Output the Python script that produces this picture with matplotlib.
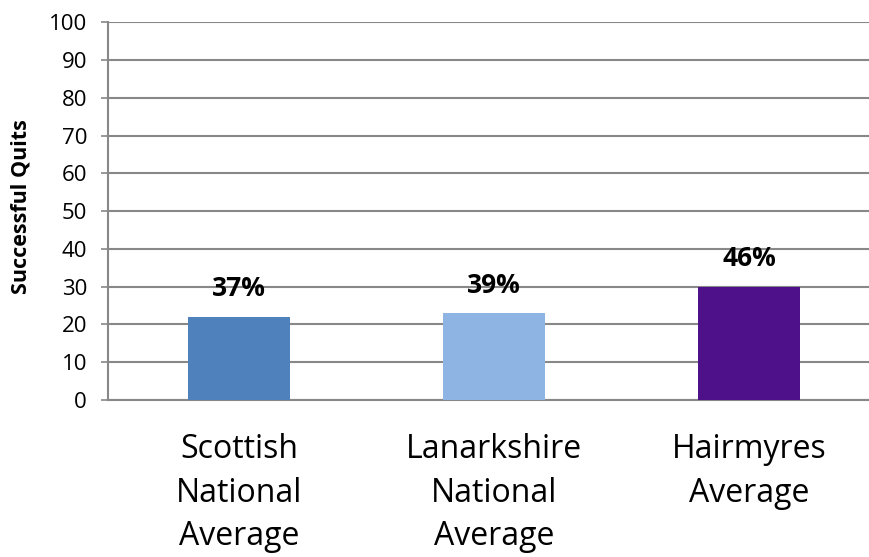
import numpy as np
import matplotlib.pyplot as plt

# values
categories = ['Scottish\nNational\nAverage', 'Lanarkshire\nNational\nAverage', 'Hairmyres\nAverage']
quits = [22, 23, 30]
pct_labels = ['37%', '39%', '46%']
colours = ['#4F81BD', '#8EB4E3', '#4E1189']
yticks = list(range(0, 101, 10))

plt.rcParams['font.family'] = ['Open Sans', 'DejaVu Sans']

fig = plt.figure(figsize=(8.7, 5.57), dpi=100)
ax = fig.add_axes([0.124, 0.282, 0.876, 0.678])

x = np.arange(len(categories))
ax.bar(x, quits, width=0.4, color=colours, zorder=3)

for xi, v, lab in zip(x, quits, pct_labels):
    ax.annotate(lab, (xi, v), xytext=(0, 28), textcoords='offset pixels',
                ha='center', va='center', fontsize=19, fontweight='bold')

ax.set_xlim(-0.514, 2.474)
ax.set_ylim(0, 100)
ax.set_yticks(yticks)
ax.yaxis.grid(True, color='#888888', linewidth=1.5, zorder=0)
ax.tick_params(axis='y', labelsize=16, length=5, width=1.2, color='#888888', pad=10)
ax.set_xticks(x)
ax.set_xticklabels(categories, fontsize=23, linespacing=1.42)
ax.tick_params(axis='x', length=0, pad=24)

for side in ['top', 'right']:
    ax.spines[side].set_visible(False)
for side in ['left', 'bottom']:
    ax.spines[side].set_color('#888888')
    ax.spines[side].set_linewidth(1.5)

ax.set_ylabel('Successful Quits', fontsize=15.5, fontweight='bold')
ax.yaxis.set_label_coords(-0.1, 0.513)

fig.savefig('out.png', dpi=100)
